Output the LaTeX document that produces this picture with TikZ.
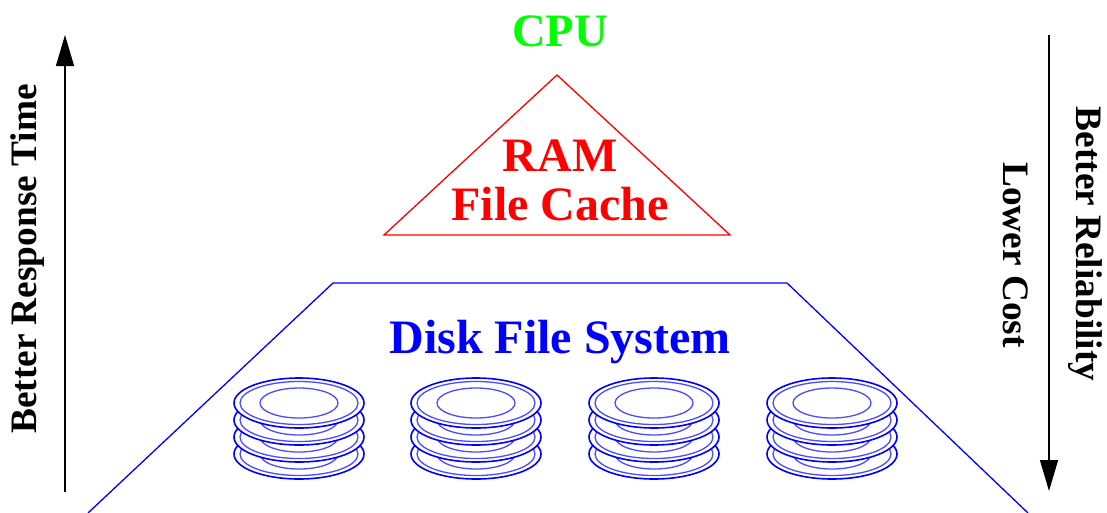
\documentclass[tikz,border=0pt]{standalone}
\usepackage{fontspec}
\setmainfont{Liberation Serif}
\usetikzlibrary{arrows.meta}
\tikzset{
  x=1pt,y=-1pt,
  biglabel/.style={font=\fontsize{48}{50}\selectfont\bfseries,inner sep=0pt,anchor=base},
  sidelabel/.style={font=\fontsize{37.3}{40}\selectfont\bfseries,inner sep=0pt,rotate=#1},
  axisline/.style={draw=black,line width=1.3pt,-{Triangle[length=31pt,width=18pt]}},
  shapeline/.style={line width=1.3pt,line join=miter},
  plate/.pic={
    \draw[blue,line width=1.6pt,fill=white] (0,0) ellipse [x radius=65,y radius=25];
    \draw[blue!70,line width=1.3pt] (0,0) ellipse [x radius=59,y radius=21.5];
    \draw[blue!70,line width=1.3pt] (0,0) ellipse [x radius=39,y radius=15];
  },
  stack/.pic={
    \pic at (0,51) {plate};
    \pic at (0,34) {plate};
    \pic at (0,17) {plate};
    \pic at (0,0) {plate};
  }
}
\begin{document}
\begin{tikzpicture}
\useasboundingbox (0,0) rectangle (1107,512);
\clip (0,0) rectangle (1107,512);
\coordinate (upstart) at (65,492);
\coordinate (upend) at (65,35);
\coordinate (downstart) at (1049,35);
\coordinate (downend) at (1049,491);
\draw[axisline] (upstart) -- (upend);
\draw[axisline] (downstart) -- (downend);
\node[biglabel,font=\fontsize{46.5}{50}\selectfont\bfseries,text=green] (cpu) at (560,46) {CPU};
\coordinate (tritop) at (557,75);
\coordinate (trileft) at (384,235);
\coordinate (triright) at (730,235);
\draw[shapeline,red] (tritop) -- (triright) -- (trileft) -- cycle;
\node[biglabel,text=red] (ram) at (560,171) {RAM};
\node[biglabel,text=red] (cache) at (560,220) {File Cache};
\coordinate (fsbl) at (88,513);
\coordinate (fstl) at (333,283);
\coordinate (fstr) at (787,283);
\coordinate (fsbr) at (1028,513);
\draw[shapeline,blue] (fsbl) -- (fstl) -- (fstr) -- (fsbr);
\node[biglabel,text=blue] (fs) at (560,353) {Disk File System};
\pic at (299,403) {stack};
\pic at (476,403) {stack};
\pic at (654,403) {stack};
\pic at (832,403) {stack};
\node[sidelabel=90] (resp) at (28,259) {Better Response Time};
\node[sidelabel=-90] (rel) at (1085,244) {Better Reliability};
\node[sidelabel=-90] (cost) at (1016,255) {Lower Cost};
\end{tikzpicture}
\end{document}
